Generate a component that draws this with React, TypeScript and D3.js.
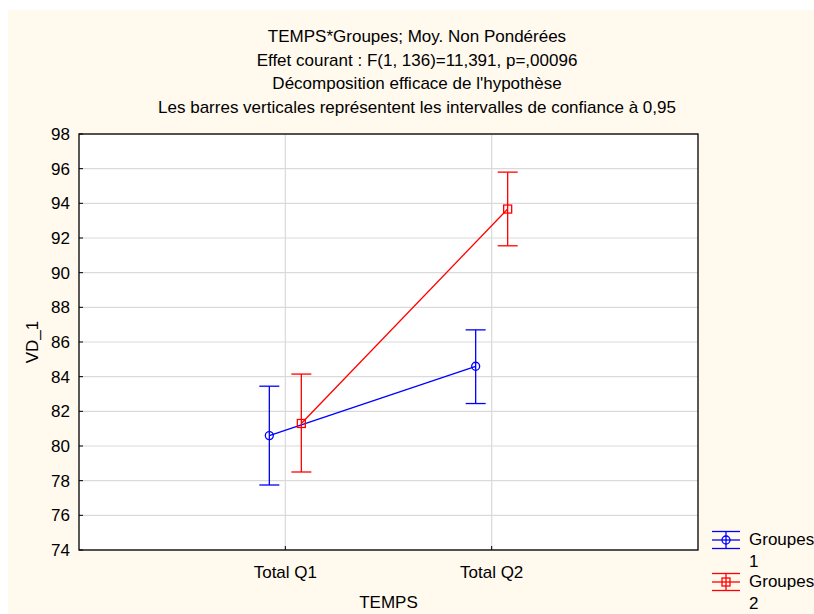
import React from "react";
import * as d3 from "d3";

const titleLines = [
  "TEMPS*Groupes; Moy. Non Pondérées",
  "Effet courant : F(1, 136)=11,391, p=,00096",
  "Décomposition efficace de l'hypothèse",
  "Les barres verticales représentent les intervalles de confiance à 0,95",
];
const categories = ["Total Q1", "Total Q2"];
const yTicks = [74, 76, 78, 80, 82, 84, 86, 88, 90, 92, 94, 96, 98];
const g1Mean = [80.6, 84.6];
const g1Low = [77.75, 82.45];
const g1High = [83.45, 86.7];
const g2Mean = [81.3, 93.67];
const g2Low = [78.5, 91.55];
const g2High = [84.15, 95.8];
const seriesNames = ["Groupes", "Groupes"];
const seriesSub = ["1", "2"];

const FONT = "'Liberation Sans', Arial, sans-serif";

export default function App() {
  const left = 79, right = 698, top = 134, bottom = 550;
  const x = d3.scalePoint<string>().domain(["_a", ...categories, "_b"]).range([left, right]);
  const y = d3.scaleLinear().domain([74, 98]).range([bottom, top]);
  const series = [
    { color: "#0000ff", mean: g1Mean, low: g1Low, high: g1High, off: -16, shape: "circle" },
    { color: "#ff0000", mean: g2Mean, low: g2Low, high: g2High, off: 16, shape: "square" },
  ];
  return (
    <svg width={814} height={614} style={{ position: "absolute", left: 0, top: 0 }} fontFamily={FONT}>
      <rect x={0} y={0} width={814} height={614} fill="#ffffff" />
      <rect x={8} y={10} width={806} height={604} fill="#fff9ee" />
      {titleLines.map((t, i) => (
        <text key={i} x={417} y={42 + i * 23.5} textAnchor="middle" fontSize={17} fill="#000">{t}</text>
      ))}
      <rect x={left} y={top} width={right - left} height={bottom - top} fill="#ffffff" />
      {yTicks.map((t) => (
        <line key={t} x1={left} x2={right} y1={y(t)} y2={y(t)} stroke="#dadada" strokeWidth={1.2} />
      ))}
      {categories.map((c) => (
        <line key={c} x1={x(c)} x2={x(c)} y1={top} y2={bottom} stroke="#dadada" strokeWidth={1.2} />
      ))}
      {yTicks.map((t) => (
        <g key={"t" + t}>
          <line x1={left} x2={left + 4} y1={y(t)} y2={y(t)} stroke="#000" />
          <text x={70} y={y(t) + 6} textAnchor="end" fontSize={17}>{t}</text>
        </g>
      ))}
      {categories.map((c) => (
        <g key={"c" + c}>
          <line x1={x(c)} x2={x(c)} y1={bottom} y2={bottom - 4} stroke="#000" />
          <text x={x(c)} y={578} textAnchor="middle" fontSize={17}>{c}</text>
        </g>
      ))}
      <rect x={left} y={top} width={right - left} height={bottom - top} fill="none" stroke="#000" strokeWidth={1.3} />
      <text x={(left + right) / 2} y={608} textAnchor="middle" fontSize={17}>TEMPS</text>
      <text transform={`translate(38,${(top + bottom) / 2}) rotate(-90)`} textAnchor="middle" fontSize={17}>VD_1</text>
      {series.map((s, si) => {
        const pts = categories.map((c, i) => [(x(c) as number) + s.off, y(s.mean[i])] as [number, number]);
        return (
          <g key={si} stroke={s.color} fill="none" strokeWidth={1.3}>
            <path d={d3.line()(pts) as string} />
            {categories.map((c, i) => {
              const cx = (x(c) as number) + s.off;
              return (
                <g key={c}>
                  <line x1={cx} x2={cx} y1={y(s.low[i])} y2={y(s.high[i])} />
                  <line x1={cx - 10} x2={cx + 10} y1={y(s.low[i])} y2={y(s.low[i])} />
                  <line x1={cx - 10} x2={cx + 10} y1={y(s.high[i])} y2={y(s.high[i])} />
                  {s.shape === "circle" ? (
                    <circle cx={cx} cy={y(s.mean[i])} r={4} />
                  ) : (
                    <rect x={cx - 4} y={y(s.mean[i]) - 4} width={8} height={8} />
                  )}
                </g>
              );
            })}
          </g>
        );
      })}
      {series.map((s, si) => {
        const cy = 540 + si * 42;
        const cx = 726;
        return (
          <g key={"l" + si}>
            <g stroke={s.color} fill="none" strokeWidth={1.3}>
              <line x1={712} x2={740} y1={cy} y2={cy} />
              <line x1={712} x2={740} y1={cy - 8.5} y2={cy - 8.5} />
              <line x1={712} x2={740} y1={cy + 8.5} y2={cy + 8.5} />
              <line x1={cx} x2={cx} y1={cy - 8.5} y2={cy + 8.5} />
              {s.shape === "circle" ? (
                <circle cx={cx} cy={cy} r={4} />
              ) : (
                <rect x={cx - 4} y={cy - 4} width={8} height={8} />
              )}
            </g>
            <text x={749} y={cy + 5} fontSize={17}>{seriesNames[si]}</text>
            <text x={749} y={cy + 27} fontSize={17}>{seriesSub[si]}</text>
          </g>
        );
      })}
    </svg>
  );
}
